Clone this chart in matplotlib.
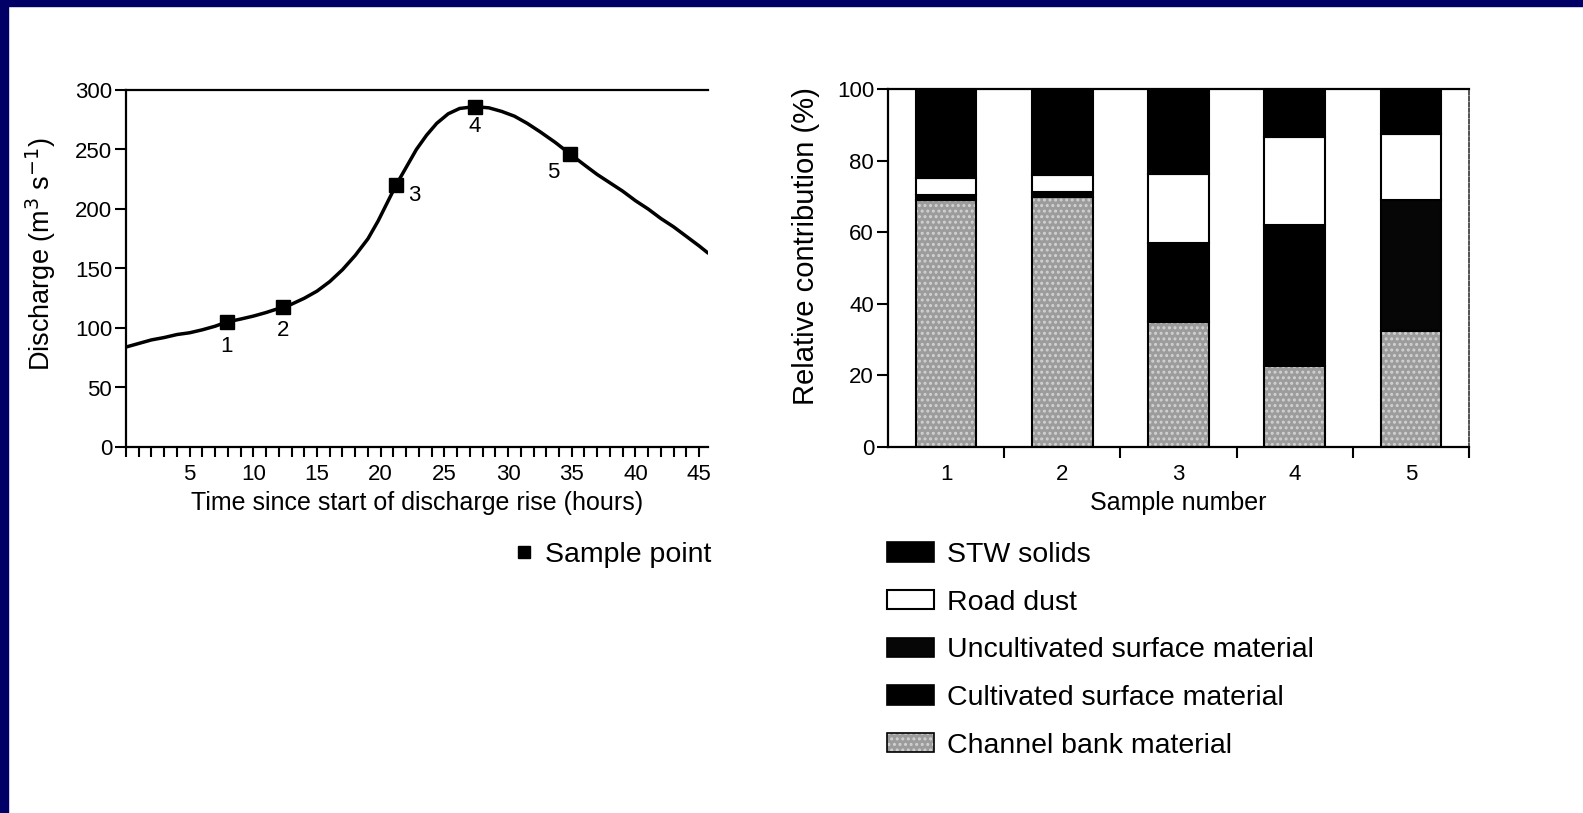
import matplotlib
matplotlib.use("Agg")
import matplotlib.pyplot as plt
from matplotlib.patches import Patch, Rectangle
from matplotlib.lines import Line2D
from matplotlib.legend_handler import HandlerTuple
from matplotlib.ticker import MultipleLocator

plt.rcParams['font.family'] = ['Liberation Sans', 'DejaVu Sans']
plt.rcParams['hatch.linewidth'] = 1.4

# ---------------- data ----------------
# hydrograph
time_h = [0, 1, 2, 3, 4, 5, 6, 7, 7.9, 9, 10, 11, 12.3, 13, 14, 15, 16, 17, 18, 19,
          19.8, 20.5, 21.2, 22, 22.8, 23.6, 24.4, 25.3, 26.2, 27.4, 28.5, 29.5,
          30.5, 31.5, 32.5, 33.7, 34.9, 36, 37, 38, 39, 40, 41, 42, 43, 44, 45, 45.7]
discharge = [84, 87, 90, 92, 94.5, 96, 98.5, 101.5, 105, 107.5, 110, 113, 117.5, 120,
             125, 131, 139, 149, 161, 175, 190, 205, 220, 235, 250, 262, 272, 280,
             284.5, 286, 285, 282, 278, 272, 265, 256, 246, 237, 229, 222, 215, 207,
             200, 192, 185, 177, 169, 163]
sample_time = [7.9, 12.3, 21.2, 27.4, 34.9]
sample_q = [105, 117.5, 220, 286, 246]
sample_labels = ['1', '2', '3', '4', '5']
sample_label_offsets = [(0, -24), (0, -23), (18, -10), (0, -20), (-17, -18)]
x_ticks_left = [5, 10, 15, 20, 25, 30, 35, 40, 45]
y_ticks_left = [0, 50, 100, 150, 200, 250, 300]

# source apportionment (%)
samples = [1, 2, 3, 4, 5]
channel_bank = [69.0, 69.8, 35.0, 22.5, 32.5]
cultivated = [1.3, 1.4, 22.0, 39.5, 0.0]
uncultivated = [0.0, 0.0, 0.0, 0.0, 36.5]
road_dust = [4.8, 4.8, 19.3, 24.5, 18.5]
stw_solids = [24.9, 24.0, 23.7, 13.5, 12.5]
y_ticks_right = [0, 20, 40, 60, 80, 100]

legend_labels = ['STW solids', 'Road dust', 'Uncultivated surface material',
                 'Cultivated surface material', 'Channel bank material']

# ---------------- figure ----------------
W, H = 1583, 813
fig = plt.figure(figsize=(W / 100, H / 100), dpi=100)
fig.patch.set_facecolor('white')

# navy frame (top and left)
fig.add_artist(Rectangle((0, 1 - 6 / H), 1, 6 / H, transform=fig.transFigure,
                         color='#000066', zorder=10))
fig.add_artist(Rectangle((0, 0), 8 / W, 1, transform=fig.transFigure,
                         color='#000066', zorder=10))

tick_fs = 16
label_fs_x = 18
leg_fs = 20.5

# ---- left: hydrograph ----
ax1 = fig.add_axes([126 / W, 1 - 447 / H, (708 - 126) / W, (447 - 90) / H])
ax1.plot(time_h, discharge, color='black', lw=2.5, solid_capstyle='round',
         solid_joinstyle='round', zorder=3)
ax1.plot(sample_time, sample_q, ls='none', marker='s', ms=9.5, color='black', zorder=4)
for t, q, lab, off in zip(sample_time, sample_q, sample_labels, sample_label_offsets):
    ax1.annotate(lab, (t, q), xytext=off, textcoords='offset pixels',
                 ha='center', va='center', fontsize=tick_fs)
ax1.set_xlim(0, 45.7)
ax1.set_ylim(0, 300)
ax1.set_xticks(x_ticks_left)
ax1.xaxis.set_minor_locator(MultipleLocator(1))
ax1.set_yticks(y_ticks_left)
ax1.tick_params(axis='both', which='both', direction='out', width=1.5,
                labelsize=tick_fs, color='black')
ax1.tick_params(axis='x', which='major', length=7, pad=5)
ax1.tick_params(axis='x', which='minor', length=7)
ax1.tick_params(axis='y', which='major', length=8, pad=2)
ax1.spines['right'].set_visible(False)
for s in ['left', 'bottom', 'top']:
    ax1.spines[s].set_linewidth(1.6)
ax1.set_xlabel('Time since start of discharge rise (hours)', fontsize=label_fs_x)
ax1.set_ylabel('Discharge (m$^3$ s$^{-1}$)', fontsize=19.5)
ax1.xaxis.set_label_coords(0.5, -0.124)
ax1.yaxis.set_label_coords(-0.117, 0.54)

# ---- right: stacked bars ----
ax2 = fig.add_axes([888 / W, 1 - 447 / H, (1469 - 888) / W, (447 - 89) / H])
bw = 0.52
gray = '#9c9c9c'
dots = '#d2d2d2'
ax2.bar(samples, channel_bank, bw, color=gray, linewidth=0, zorder=2)
ax2.bar(samples, channel_bank, bw, facecolor='none', edgecolor=dots,
        hatch='...', linewidth=0, zorder=2.1)
ax2.bar(samples, channel_bank, bw, facecolor='none', edgecolor='black', lw=1.5, zorder=2.2)
b = list(channel_bank)
ax2.bar(samples, cultivated, bw, bottom=b, color='black', edgecolor='black', lw=1.5, zorder=2)
b = [x + y for x, y in zip(b, cultivated)]
ax2.bar(samples, uncultivated, bw, bottom=b, color='#060606', edgecolor='black', lw=1.5, zorder=2)
b = [x + y for x, y in zip(b, uncultivated)]
ax2.bar(samples, road_dust, bw, bottom=b, color='white', edgecolor='black', lw=1.5, zorder=2)
b = [x + y for x, y in zip(b, road_dust)]
ax2.bar(samples, stw_solids, bw, bottom=b, color='black', edgecolor='black', lw=1.5, zorder=2)

ax2.set_xlim(0.5, 5.5)
ax2.set_ylim(0, 100)
ax2.set_xticks(samples)
ax2.set_xticks([1.5, 2.5, 3.5, 4.5, 5.5], minor=True)
ax2.set_yticks(y_ticks_right)
ax2.tick_params(axis='both', which='both', direction='out', width=1.5,
                labelsize=tick_fs, color='black')
ax2.tick_params(axis='x', which='major', length=0, pad=12)
ax2.tick_params(axis='x', which='minor', length=8)
ax2.tick_params(axis='y', which='major', length=8, pad=2)
for s in ['left', 'bottom', 'top']:
    ax2.spines[s].set_linewidth(1.6)
ax2.spines['right'].set_linestyle((0, (2, 1.2)))
ax2.spines['right'].set_linewidth(1.3)
ax2.spines['right'].set_color('#444444')
ax2.set_xlabel('Sample number', fontsize=label_fs_x)
ax2.set_ylabel('Relative contribution (%)', fontsize=21)
ax2.xaxis.set_label_coords(0.5, -0.124)
ax2.yaxis.set_label_coords(-0.117, 0.56)

# ---- legends ----
h_stw = Patch(facecolor='black', edgecolor='black', lw=1.2)
h_road = Patch(facecolor='white', edgecolor='black', lw=1.5)
h_unc = Patch(facecolor='#060606', edgecolor='black', lw=1.2)
h_cult = Patch(facecolor='black', edgecolor='black', lw=1.2)
h_chan = (Patch(facecolor=gray, edgecolor='none'),
          Patch(facecolor='none', edgecolor=dots, hatch='...', lw=0),
          Patch(facecolor='none', edgecolor='black', lw=1.2))
fig.legend([h_stw, h_road, h_unc, h_cult, h_chan], legend_labels,
           handler_map={tuple: HandlerTuple(ndivide=1, pad=0)},
           loc='upper left', bbox_to_anchor=(887 / W, 1 - 542 / H),
           frameon=False, fontsize=leg_fs, handlelength=1.65, handleheight=0.66,
           handletextpad=0.45, labelspacing=0.76, borderpad=0, borderaxespad=0)

fig.legend([Line2D([], [], ls='none', marker='s', ms=8, color='black')], ['Sample point'],
           loc='upper left', bbox_to_anchor=(517 / W, 1 - 542 / H), frameon=False,
           fontsize=leg_fs, handlelength=0.5, handletextpad=0.5, borderpad=0,
           borderaxespad=0)

fig.savefig('out.png', dpi=100, facecolor='white')
